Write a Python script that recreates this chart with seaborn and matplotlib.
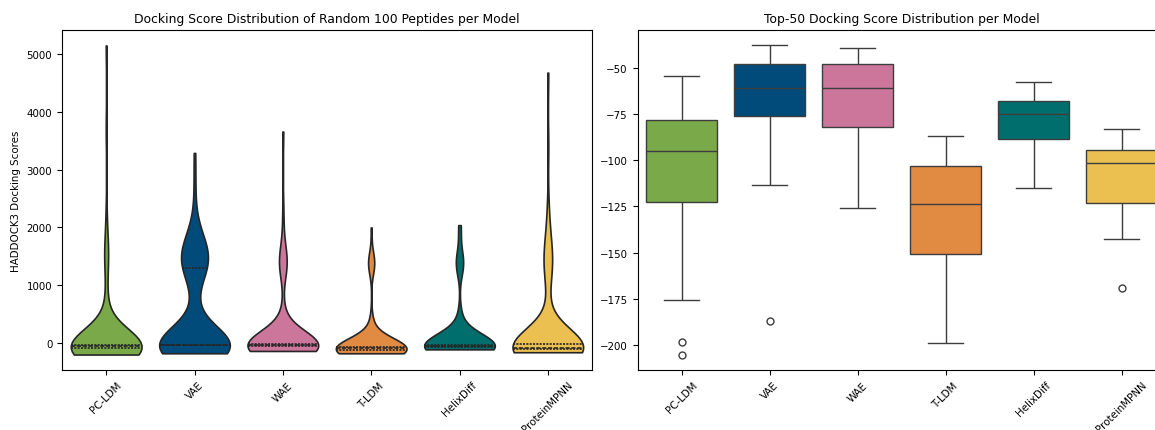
import numpy as np
import pandas as pd
import seaborn as sns
import matplotlib
matplotlib.use("Agg")
import matplotlib.pyplot as plt

models = ["PC-LDM", "VAE", "WAE", "T-LDM", "HelixDiff", "ProteinMPNN"]
colors = ["#7aa94a", "#004b7a", "#cd769c", "#e08a42", "#006e6d", "#ebbf50"]

# random 100 peptides: score bins, with how many peptides sit in each
pcldm_vals = [-200, -180, -160, -140, -120, -100, -90, -80, -70, -60, -50, -40, -35, -20, 0, 100, 250, 450, 700, 1000, 1400, 1600, 1800, 2200, 3700, 5150]
pcldm_cnts = [3, 3, 3, 4, 5, 6, 6, 7, 7, 8, 8, 8, 8, 4, 3, 3, 2, 2, 1, 1, 2, 2, 1, 1, 1, 1]
vae_vals = [-178, -150, -120, -90, -60, -45, -40, -35, -30, -25, 0, 100, 300, 600, 900, 1100, 1250, 1300, 1400, 1500, 1600, 1750, 1900, 2300, 2800, 3290]
vae_cnts = [2, 3, 4, 5, 6, 5, 7, 9, 11, 4, 4, 3, 2, 2, 1, 1, 4, 3, 5, 5, 4, 4, 3, 1, 1, 1]
wae_vals = [-138, -120, -100, -80, -60, -50, -45, -40, -35, -30, -25, -20, 0, 100, 300, 500, 1200, 1350, 1450, 1600, 1900, 2300, 3660]
wae_cnts = [3, 5, 6, 6, 5, 7, 8, 8, 5, 8, 8, 6, 4, 3, 3, 2, 2, 3, 3, 2, 1, 1, 1]
tldm_vals = [-178, -160, -140, -125, -120, -110, -100, -95, -85, -75, -70, -50, -20, 50, 200, 400, 1300, 1400, 1500, 2000]
tldm_cnts = [6, 7, 7, 5, 8, 8, 8, 5, 8, 8, 6, 4, 3, 3, 3, 2, 3, 3, 2, 1]
helix_vals = [-110, -95, -80, -70, -60, -55, -50, -45, -40, -35, -30, 0, 100, 300, 500, 1300, 1400, 1500, 1900, 2000, 2040]
helix_cnts = [5, 6, 7, 7, 8, 8, 8, 6, 8, 10, 4, 3, 3, 3, 2, 3, 4, 2, 1, 1, 1]
pmpnn_vals = [-160, -140, -125, -115, -110, -100, -90, -80, -60, -40, -25, -10, 50, 200, 400, 700, 1100, 1300, 1500, 1700, 2000, 2400, 3400, 4680]
pmpnn_cnts = [6, 7, 7, 5, 7, 7, 7, 6, 6, 6, 6, 6, 3, 3, 1, 1, 2, 3, 4, 2, 2, 1, 1, 1]

# top-50 docking scores (points chosen so box, whiskers and outliers match)
top_pcldm = [-205, -198.2, -175.6, -122.8, -112, -103, -95.1, -89, -83, -78.2, -70, -62, -54.3]
top_vae = [-186.9, -113.3, -90, -76.2, -70, -65, -60.8, -57, -52, -48, -45, -41, -38]
top_wae = [-125.6, -100, -82.3, -70, -60.8, -54, -48.2, -44, -39.4]
top_tldm = [-198.8, -170, -150.5, -135, -123.9, -112, -103.4, -95, -86.8]
top_helix = [-114.9, -100, -88.3, -80, -75.3, -71, -68, -63, -57.5]
top_pmpnn = [-169.1, -142.4, -130, -123, -115, -108, -101.4, -99, -97, -94.4, -90, -87, -83.4]

rand_vals = [pcldm_vals, vae_vals, wae_vals, tldm_vals, helix_vals, pmpnn_vals]
rand_cnts = [pcldm_cnts, vae_cnts, wae_cnts, tldm_cnts, helix_cnts, pmpnn_cnts]
top_scores = [top_pcldm, top_vae, top_wae, top_tldm, top_helix, top_pmpnn]

rand_df = pd.DataFrame({
    "Model": np.concatenate([[m] * sum(c) for m, c in zip(models, rand_cnts)]),
    "Score": np.concatenate([np.repeat(v, c) for v, c in zip(rand_vals, rand_cnts)]),
})
top_df = pd.DataFrame({
    "Model": np.concatenate([[m] * len(s) for m, s in zip(models, top_scores)]),
    "Score": np.concatenate(top_scores),
})

plt.rcParams["font.size"] = 7.4
palette = dict(zip(models, colors))

fig = plt.figure(figsize=(11.55, 4.31), dpi=100)
ax1 = fig.add_axes([62 / 1155, 60 / 431, 530 / 1155, 340 / 431])
ax2 = fig.add_axes([637.5 / 1155, 60 / 431, 528 / 1155, 340 / 431])

sns.violinplot(
    data=rand_df, x="Model", y="Score", hue="Model", palette=palette,
    inner="quart", cut=0, density_norm="width", saturation=1,
    linecolor="#262626", linewidth=1.2, legend=False, ax=ax1
)
ax1.set_title("Docking Score Distribution of Random 100 Peptides per Model")
ax1.set_xlabel("")
ax1.set_ylabel("HADDOCK3 Docking Scores")
ax1.tick_params(axis="x", rotation=45)

sns.boxplot(
    data=top_df, x="Model", y="Score", hue="Model", palette=palette,
    saturation=1, linecolor="#3d3d3d", linewidth=1.0, legend=False,
    flierprops=dict(marker="o", markerfacecolor="none", markeredgecolor="#3d3d3d", markersize=5),
    ax=ax2
)
ax2.set_title("Top-50 Docking Score Distribution per Model")
ax2.set_xlabel("")
ax2.set_ylabel("")
ax2.tick_params(axis="x", rotation=45)

fig.savefig("out.png", dpi=100)
